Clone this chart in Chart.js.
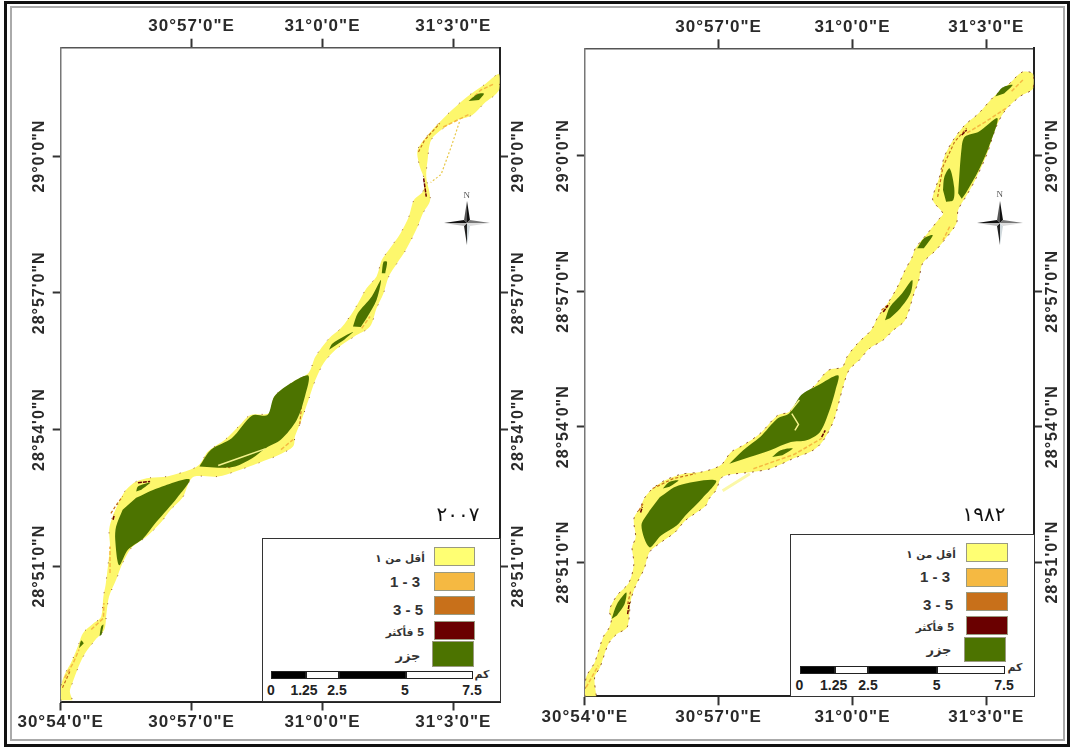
<!DOCTYPE html>
<html>
<head>
<meta charset="utf-8">
<script src="https://cdn.jsdelivr.net/npm/chart.js@4/dist/chart.umd.min.js"></script>
<style>
html, body { margin: 0; padding: 0; background: #fff; }
#page { position: relative; width: 1070px; height: 747px; overflow: hidden; background: #fff; filter: blur(0.35px); }
canvas { position: absolute; top: 0; }
.abs { position: absolute; box-sizing: border-box; }
.txt { position: absolute; transform: translate(-50%, -50%); white-space: nowrap; color: #222; font-family: "DejaVu Sans", sans-serif; font-weight: bold; }
</style>
</head>
<body>
<div id="page">
  <div class="abs" style="left:4px;top:1px;width:1066px;height:746px;border:3px solid #111"></div>
  <div class="abs" style="left:10px;top:6px;width:1055px;height:735px;border:2px solid #aaa"></div>
  <canvas id="map2007" width="535" height="747" style="left:0"></canvas>
  <canvas id="map1982" width="535" height="747" style="left:535px"></canvas>
</div>
<script>
// Map coordinates are arc minutes: lon past 30 deg E, lat past 28 deg N
const lonTicksTop = [57, 60, 63];
const lonTicksBottom = [54, 57, 60, 63];
const latTicks = [51, 54, 57, 60];
const lonLabels = { 54: '30°54\'0"E', 57: '30°57\'0"E', 60: '31°0\'0"E', 63: '31°3\'0"E' };
const latLabels = { 51: '28°51\'0"N', 54: '28°54\'0"N', 57: '28°57\'0"N', 60: '29°0\'0"N' };

const legendLabels = ['أقل من ١', '1 - 3', '3 - 5', '5 فأكثر', 'جزر'];
const legendColors = ['#FFFF73', '#F5B942', '#C8701A', '#6A0000', '#4C7300'];
const scaleLabels = ['0', '1.25', '2.5', '5', '7.5'];

// 2007
const river2007 = [
  [54.00,48.06],[54.00,48.33],[54.09,48.62],[54.25,48.91],[54.42,49.31],[54.51,49.53],[54.72,49.72],[54.91,49.86],
  [54.95,50.01],[54.98,50.34],[55.03,50.59],[55.09,51.07],[55.13,51.43],[55.11,51.80],[55.19,52.09],[55.30,52.34],
  [55.38,52.50],[55.50,52.68],[55.73,52.86],[56.05,52.94],[56.44,52.97],[56.98,53.12],[57.18,53.23],[57.38,53.52],
  [57.77,53.78],[58.08,54.07],[58.35,54.32],[58.78,54.36],[58.90,54.73],[59.33,55.05],[59.68,55.24],[59.84,55.60],
  [60.15,56.00],[60.42,56.22],[60.73,56.63],[61.01,57.10],[61.24,57.36],[61.36,57.72],[61.52,57.94],[61.79,58.31],
  [61.98,58.67],[62.10,59.04],[62.30,59.22],[62.34,59.47],[62.23,59.77],[62.18,60.13],[62.41,60.46],[62.69,60.75],
  [63.00,61.04],[63.31,61.30],[63.70,61.56],[64.05,61.80],[64.05,61.45],[63.70,61.15],[63.43,60.90],[63.08,60.79],
  [62.77,60.61],[62.49,60.35],[62.41,59.91],[62.38,59.55],[62.47,59.04],[62.30,58.74],[62.18,58.45],[61.91,57.94],
  [61.71,57.65],[61.52,57.36],[61.40,56.99],[61.24,56.66],[61.09,56.26],[60.73,56.04],[60.30,55.75],[60.03,55.46],
  [59.84,55.09],[59.68,54.65],[59.52,54.21],[59.37,53.85],[59.33,53.63],[59.02,53.45],[58.55,53.27],[58.00,53.08],
  [57.61,52.97],[57.06,52.97],[56.95,52.86],[56.79,52.50],[56.52,52.24],[56.28,51.94],[55.97,51.65],[55.62,51.40],
  [55.42,51.07],[55.27,50.70],[55.11,50.34],[55.05,49.97],[55.00,49.61],[54.80,49.39],[54.56,49.09],[54.41,48.80],
  [54.27,48.44],[54.21,48.25],[54.27,48.06]
];
const islands2007 = [
  [[57.18,53.19],[57.45,53.56],[57.92,53.81],[58.39,54.31],[58.74,54.32],[58.90,54.73],[59.33,55.05],[59.68,55.18],
   [59.60,54.73],[59.41,54.21],[59.05,53.78],[58.70,53.59],[58.39,53.37],[58.00,53.19],[57.61,53.16]],
  [[60.15,55.75],[60.23,55.89],[60.70,56.14],[60.50,55.97]],
  [[60.70,56.26],[60.81,56.55],[61.13,56.92],[61.34,57.28],[61.24,56.84],[61.01,56.44],[60.88,56.25]],
  [[61.36,57.43],[61.40,57.68],[61.48,57.68],[61.44,57.43]],
  [[55.73,52.50],[56.13,52.68],[56.95,52.91],[56.67,52.50],[56.44,52.24],[56.20,51.98],[55.89,51.61],[55.54,51.36],
   [55.34,51.02],[55.25,51.58],[55.27,51.87],[55.42,52.24]],
  [[55.73,52.64],[55.77,52.75],[56.05,52.83],[55.85,52.68]],
  [[54.89,49.46],[54.93,49.68],[54.98,49.72],[54.94,49.50]],
  [[54.42,49.20],[54.47,49.37],[54.53,49.31]],
  [[63.35,61.21],[63.55,61.36],[63.70,61.37],[63.59,61.23]]
];
const seams2007 = [[[57.61,53.21],[58.08,53.37],[58.70,53.58]]];
const branch2007 = [[63.14,60.75],[62.95,60.20],[62.72,59.60],[62.48,59.42]];
const depth13_2007 = [
  [[54.09,48.55],[54.29,48.88],[54.42,49.17]],
  [[54.70,49.61],[54.98,49.86],[54.99,50.19]],
  [[55.13,50.85],[55.13,51.43]],
  [[63.39,61.23],[63.63,61.45],[63.94,61.59]],
  [[60.90,56.22],[61.09,56.48]],
  [[59.05,53.56],[59.33,53.78]],
  [[62.77,60.64],[63.39,60.93]]
];
const depth35_2007 = [
  [[62.20,60.09],[62.34,60.35],[62.69,60.72]],
  [[55.15,52.16],[55.30,52.38],[55.42,52.53]],
  [[59.52,54.51],[59.48,54.11]],
  [[57.61,53.19],[57.89,53.16]],
  [[54.04,48.33],[54.21,48.69]]
];
const depth5_2007 = [
  [[62.32,59.51],[62.38,59.11]],
  [[55.20,52.02],[55.23,52.13]],
  [[55.77,52.83],[56.05,52.86]]
];

// 1982
const river1982 = [
  [54.00,48.02],[54.03,48.45],[54.22,48.78],[54.41,49.34],[54.53,49.52],[54.60,49.74],[54.55,49.93],[54.72,50.26],
  [54.99,50.55],[55.10,50.96],[55.06,51.33],[55.14,51.55],[55.10,51.96],[55.25,52.22],[55.33,52.41],[55.52,52.63],
  [55.79,52.81],[56.17,52.95],[56.63,53.00],[57.05,53.15],[57.28,53.44],[57.55,53.59],[57.93,53.85],[58.32,54.25],
  [58.58,54.33],[58.85,54.66],[59.16,54.92],[59.46,55.25],[59.77,55.32],[59.88,55.55],[60.11,55.84],[60.42,56.14],
  [60.57,56.43],[60.76,56.69],[60.99,57.06],[61.18,57.47],[61.34,57.76],[61.41,57.95],[61.68,58.28],[61.95,58.61],
  [62.03,58.72],[61.80,59.02],[61.87,59.31],[61.95,59.53],[62.06,59.98],[62.26,60.35],[62.52,60.68],[62.83,60.94],
  [63.17,61.31],[63.52,61.60],[63.82,61.86],[64.05,61.81],[64.05,61.49],[63.75,61.31],[63.40,60.97],[63.21,60.61],
  [63.02,60.05],[62.75,59.46],[62.54,59.09],[62.37,58.80],[62.33,58.50],[62.06,58.13],[61.87,57.91],[61.57,57.61],
  [61.49,57.25],[61.38,56.95],[61.18,56.36],[60.92,56.14],[60.69,55.92],[60.38,55.73],[60.15,55.47],[59.92,55.25],
  [59.77,54.81],[59.58,54.14],[59.35,53.70],[59.12,53.48],[58.66,53.29],[58.16,53.07],[57.78,53.00],[57.09,52.89],
  [56.94,52.59],[56.79,52.41],[56.71,52.25],[56.25,51.92],[56.02,51.66],[55.71,51.44],[55.45,51.22],[55.33,50.85],
  [55.14,50.48],[55.03,50.15],[54.95,49.56],[54.72,49.41],[54.53,49.19],[54.34,48.67],[54.22,48.45],[54.26,48.02]
];
const islands1982 = [
  [[57.24,53.18],[57.55,53.48],[57.93,53.77],[58.32,54.18],[58.58,54.29],[58.85,54.70],[59.23,54.92],[59.68,55.14],
   [59.62,54.81],[59.46,54.29],[59.27,53.88],[58.97,53.70],[58.62,53.66],[58.16,53.48],[57.70,53.33]],
  [[58.20,53.33],[58.39,53.48],[58.66,53.52],[58.43,53.37]],
  [[60.73,56.36],[60.84,56.65],[61.11,56.95],[61.34,57.25],[61.30,56.95],[61.07,56.62],[60.84,56.40]],
  [[55.68,52.44],[56.10,52.70],[56.94,52.81],[56.63,52.41],[56.25,52.03],[56.06,51.81],[55.71,51.59],[55.45,51.33],
   [55.27,51.81],[55.45,52.14]],
  [[55.75,52.63],[55.90,52.78],[56.10,52.81],[55.90,52.67]],
  [[54.60,49.74],[54.72,50.07],[54.93,50.33],[54.89,50.07],[54.72,49.82]],
  [[62.37,59.17],[62.45,60.20],[62.52,60.42],[62.83,60.53],[63.25,60.83],[63.06,60.20],[62.83,59.68],[62.54,59.17],[62.45,59.05]],
  [[62.03,59.24],[62.06,59.53],[62.18,59.72],[62.28,59.31],[62.26,59.02],[62.10,58.98]],
  [[63.20,61.31],[63.36,61.51],[63.59,61.57],[63.40,61.38]],
  [[61.45,57.95],[61.60,58.17],[61.80,58.24],[61.60,57.95]]
];
const seams1982 = [
  [[58.64,54.29],[58.79,54.05],[58.71,53.92]],
  [[58.62,54.36],[58.81,54.59]]
];
const branch1982 = [[57.09,52.58],[57.70,52.96]];
const depth13_1982 = [
  [[63.44,61.05],[62.98,60.75],[62.54,60.49]],
  [[54.03,48.23],[54.30,48.71]],
  [[57.78,53.07],[58.70,53.39],[59.31,53.74]],
  [[63.82,61.68],[63.56,61.42]],
  [[62.18,58.43],[62.03,58.13]]
];
const depth35_1982 = [
  [[61.91,59.09],[62.03,59.76],[62.29,60.31],[62.56,60.61]],
  [[60.65,56.58],[60.84,56.73]],
  [[55.21,52.14],[55.33,52.33]],
  [[55.52,52.63],[55.98,52.85],[56.48,52.96]],
  [[54.96,50.07],[55.03,50.37]]
];
const depth5_1982 = [
  [[54.96,49.85],[55.00,50.11]],
  [[55.25,52.10],[55.29,52.22]],
  [[60.69,56.54],[60.80,56.69]],
  [[62.45,60.46],[62.56,60.57]],
  [[59.31,53.77],[59.39,53.92]]
];

const AXIS_FONT = 'Liberation Sans';

function toXY(points) {
    return points.map(p => ({ x: p[0], y: p[1] }));
}

function shape(points, color, order, extra) {
    return Object.assign({
        data: toXY(points),
        showLine: true,
        pointRadius: 0,
        borderWidth: 0,
        backgroundColor: color,
        borderColor: color,
        fill: 'shape',
        tension: 0.3,
        order: order
    }, extra || {});
}

function stroke(points, color, width, order, dash) {
    return {
        data: toXY(points),
        showLine: true,
        pointRadius: 0,
        borderWidth: width,
        borderColor: color,
        borderDash: dash || [],
        fill: false,
        order: order
    };
}

function axis(position, ticks, labels, size, fit) {
    const horizontal = position === 'top' || position === 'bottom';
    const cfg = {
        type: 'linear',
        position: position,
        min: horizontal ? 54 : 48.03,
        max: horizontal ? 64.07 : 62.38,
        afterBuildTicks: scale => { scale.ticks = ticks.map(v => ({ value: v })); },
        afterFit: scale => {
            if (horizontal) scale.height = size; else scale.width = size;
        },
        grid: { drawOnChartArea: false, drawTicks: true, tickLength: horizontal ? 9 : 8, tickColor: '#333', tickWidth: 2 },
        border: { display: true, color: fit.color, width: fit.width },
        ticks: {
            autoSkip: false,
            color: '#2a2a2a',
            font: { family: AXIS_FONT, weight: 'bold', size: horizontal ? 17 : 16 },
            padding: 2,
            callback: v => labels[v]
        }
    };
    if (!horizontal) {
        cfg.ticks.minRotation = 90;
        cfg.ticks.maxRotation = 90;
        cfg.ticks.crossAlign = 'center';
        cfg.ticks.padding = position === 'left' ? -24 : -26;
    }
    return cfg;
}

// letter spacing for the stretched map labels
const spacedText = {
    id: 'spacedText',
    beforeDraw(chart) { chart.ctx.letterSpacing = '1px'; }
};

function drawMap(id, m) {
    const datasets = [];
    datasets.push(shape(m.river, '#FDF76C', 50, { borderWidth: 0.8, borderColor: '#7a2f10', borderDash: m.bankDash }));
    datasets.push(stroke(m.branch, m.branchColor, m.branchWidth, 45, m.branchDash));
    m.d13.forEach(s => datasets.push(stroke(s, legendColors[1], 1.5, 40, [4, 2])));
    m.d35.forEach(s => datasets.push(stroke(s, legendColors[2], 1.2, 35, [3, 2])));
    m.d5.forEach(s => datasets.push(stroke(s, legendColors[3], 1.5, 30, [4, 1])));
    m.islands.forEach(s => datasets.push(shape(s, legendColors[4], 20)));
    m.seams.forEach(s => datasets.push(stroke(s, '#F4F28A', 1.5, 10)));

    new Chart(document.getElementById(id), {
        type: 'scatter',
        data: { datasets: datasets },
        options: {
            responsive: false,
            animation: false,
            events: [],
            layout: { padding: 0 },
            plugins: {
                legend: { display: false },
                tooltip: { enabled: false },
                filler: { drawTime: 'beforeDatasetDraw', propagate: false }
            },
            scales: {
                x: axis('bottom', lonTicksBottom, lonLabels, m.bottom, { color: '#222', width: 2 }),
                xTop: axis('top', lonTicksTop, lonLabels, m.top, { color: '#555', width: 1.5 }),
                y: axis('left', latTicks, latLabels, m.left, { color: '#777', width: 1.5 }),
                yRight: axis('right', latTicks, latLabels, m.right, { color: '#222', width: 2 })
            }
        },
        plugins: [spacedText]
    });
}

drawMap('map2007', {
    river: river2007, islands: islands2007, seams: seams2007, branch: branch2007,
    d13: depth13_2007, d35: depth35_2007, d5: depth5_2007,
    bankDash: [1, 14], branchColor: '#E8C84A', branchWidth: 1.2, branchDash: [2, 2],
    left: 60.7, right: 35, top: 47.7, bottom: 45.5
});
drawMap('map1982', {
    river: river1982, islands: islands1982, seams: seams1982, branch: branch1982,
    d13: depth13_1982, d35: depth35_1982, d5: depth5_1982,
    bankDash: [2, 6], branchColor: '#FBF8A8', branchWidth: 3, branchDash: [],
    left: 49.8, right: 36, top: 48.3, bottom: 50.7
});

// Legend boxes, scale bars, year labels and north arrows sit on top of the maps
const page = document.getElementById('page');

function box(l, t, w, h, css) {
    const d = document.createElement('div');
    d.className = 'abs';
    d.style.cssText += `left:${l}px;top:${t}px;width:${w}px;height:${h}px;${css}`;
    page.appendChild(d);
}

function label(text, cx, cy, css, rtl) {
    const d = document.createElement('div');
    d.className = 'txt';
    if (rtl) d.dir = 'rtl';
    d.textContent = text;
    d.style.cssText += `left:${cx}px;top:${cy}px;${css}`;
    page.appendChild(d);
}

function north(cx, cy) {
    const ns = 'http://www.w3.org/2000/svg';
    const svg = document.createElementNS(ns, 'svg');
    svg.setAttribute('width', 56);
    svg.setAttribute('height', 56);
    svg.setAttribute('viewBox', '-28 -28 56 56');
    svg.style.cssText = `position:absolute;left:${cx - 28}px;top:${cy - 28}px`;
    const parts = [
        ['0,-22 3,-3 0,0', '#111'], ['0,-22 -3,-3 0,0', '#555'],
        ['23,0 3,-3 0,0', '#777'], ['23,0 3,3 0,0', '#ddd'],
        ['0,22 3,3 0,0', '#cfd8dc'], ['0,22 -3,3 0,0', '#222'],
        ['-23,0 -3,-3 0,0', '#111'], ['-23,0 -3,3 0,0', '#bbb']
    ];
    parts.forEach(p => {
        const poly = document.createElementNS(ns, 'polygon');
        poly.setAttribute('points', p[0]);
        poly.setAttribute('fill', p[1]);
        svg.appendChild(poly);
    });
    page.appendChild(svg);
}

function legend(g) {
    box(g.x, g.y, g.w, g.h, 'background:#fff;border:1.5px solid #333');
    g.swatches.forEach((s, i) => {
        box(s[0], s[1], s[2], s[3], `background:${legendColors[i]};border:1px solid #9a9a80`);
    });
    g.labels.forEach((p, i) => {
        const small = i === 0 || i === 3 || i === 4;
        const size = i === 4 ? 13 : (small ? 10.5 : 15);
        label(legendLabels[i], p[0], p[1], `font-size:${size}px;color:#333;font-family:${small ? '"DejaVu Sans"' : '"Liberation Sans"'}`, small);
    });
    g.bar.forEach(s => {
        box(s[0], g.barY, s[1] - s[0], 8, `background:${s[2]};border:1px solid #222`);
    });
    scaleLabels.forEach((t, i) => {
        label(t, g.scaleX[i], g.scaleY, 'font-size:14px;font-family:"Liberation Sans";color:#222');
    });
    label('كم', g.kmX, g.kmY, 'font-size:11px;color:#333');
    label(g.year, g.yearX, 514, 'font-size:20px;font-weight:normal;letter-spacing:5px;color:#111;font-family:"DejaVu Serif","DejaVu Sans"');
    north(g.nx, g.ny);
    label('N', g.nx, g.ny - 28.5, 'font-size:9px;font-weight:normal;color:#555;font-family:"Liberation Serif"');
}

legend({
    x: 262, y: 538, w: 238.5, h: 164,
    swatches: [[434, 547, 41, 18.5], [434, 572, 41, 19], [434, 596, 41, 19], [434, 621, 41, 19], [432, 641, 42, 26]],
    labels: [[400, 558], [405, 581], [408, 609], [405, 632], [408, 655]],
    bar: [[271, 305.5, '#000'], [305.5, 338.5, '#fff'], [338.5, 406, '#000'], [406, 473, '#fff']],
    barY: 671, scaleX: [271, 304, 337, 405, 472], scaleY: 690,
    kmX: 482, kmY: 674, year: '٢٠٠٧', yearX: 458, nx: 466.7, ny: 223.3
});
legend({
    x: 790, y: 534, w: 244.5, h: 163,
    swatches: [[966, 543, 42, 18.5], [966, 568, 42, 18.5], [966, 592, 42, 19], [966, 616, 42, 19], [964, 637, 42, 25]],
    labels: [[931, 554], [935, 576], [938, 604], [935, 627], [939, 649]],
    bar: [[800, 834.7, '#000'], [834.7, 868, '#fff'], [868, 937, '#000'], [937, 1005, '#fff']],
    barY: 666, scaleX: [799.5, 833.6, 868, 936.7, 1004], scaleY: 684.7,
    kmX: 1015, kmY: 667, year: '١٩٨٢', yearX: 984, nx: 999.8, ny: 222.7
});
</script>
</body>
</html>
